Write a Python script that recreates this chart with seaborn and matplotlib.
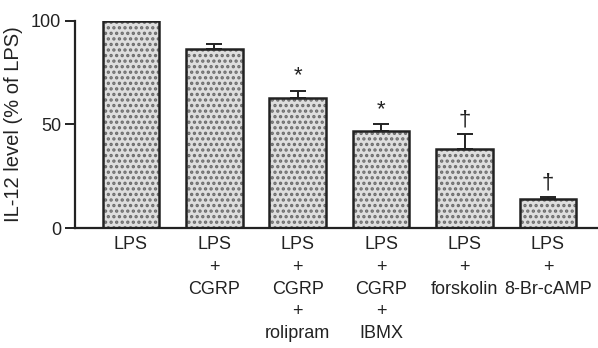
import matplotlib
matplotlib.use("Agg")
import matplotlib.pyplot as plt
import seaborn as sns
import numpy as np

categories = ["LPS", "LPS\n+\nCGRP", "LPS\n+\nCGRP\n+\nrolipram", "LPS\n+\nCGRP\n+\nIBMX",
              "LPS\n+\nforskolin", "LPS\n+\n8-Br-cAMP"]
values = [100.0, 86.3, 62.8, 46.6, 38.3, 13.8]
errors = [0.0, 2.3, 3.5, 3.4, 6.9, 1.0]
marks = ["", "", "*", "*", "\u2020", "\u2020"]
yticks = [0, 50, 100]

sns.set_style("ticks")
plt.rcParams["font.family"] = ["Liberation Sans", "DejaVu Sans"]
ink = "#222222"
plt.rcParams["text.color"] = ink
plt.rcParams["axes.labelcolor"] = ink
plt.rcParams["xtick.color"] = ink
plt.rcParams["ytick.color"] = ink
plt.rcParams["hatch.linewidth"] = 1.6

fig = plt.figure(figsize=(5.98, 3.48), dpi=100)
ax = fig.add_axes([0.1254, 0.3448, 0.8746, 0.5957])

x = np.arange(len(categories))
# textured fill layer
sns.barplot(x=categories, y=values, ax=ax, color="#dedede", edgecolor="#6a6a6a",
            linewidth=0, hatch="...", width=0.68, errorbar=None, order=categories)
# outline layer
sns.barplot(x=categories, y=values, ax=ax, fill=False, edgecolor=ink,
            linewidth=1.8, width=0.68, errorbar=None, order=categories)

ax.errorbar(x, values, yerr=[np.zeros(len(values)), errors], fmt="none",
            ecolor=ink, elinewidth=1.4, capsize=6, capthick=1.4, zorder=1)

for xi, v, e, m in zip(x, values, errors, marks):
    if m:
        ax.text(xi, v + e + 2.0, m, ha="center", va="bottom", fontsize=16, color=ink)

ax.set_xlim(-0.67, 5.6)
ax.set_ylim(0, 100)
ax.set_yticks(yticks)
ax.set_yticklabels([str(t) for t in yticks], fontsize=13)
ax.set_xticks(x)
ax.set_xticklabels(categories, fontsize=13, linespacing=1.4, va="top")
ax.tick_params(axis="x", length=0, pad=6)
ax.tick_params(axis="y", length=7, width=1.4, pad=3, direction="out")
ax.set_ylabel("IL-12 level (% of LPS)", fontsize=14.5, labelpad=6)
ax.set_xlabel("")
for s in ["top", "right"]:
    ax.spines[s].set_visible(False)
for s in ["left", "bottom"]:
    ax.spines[s].set_linewidth(1.6)
    ax.spines[s].set_color(ink)

fig.savefig("out.png", dpi=100)
